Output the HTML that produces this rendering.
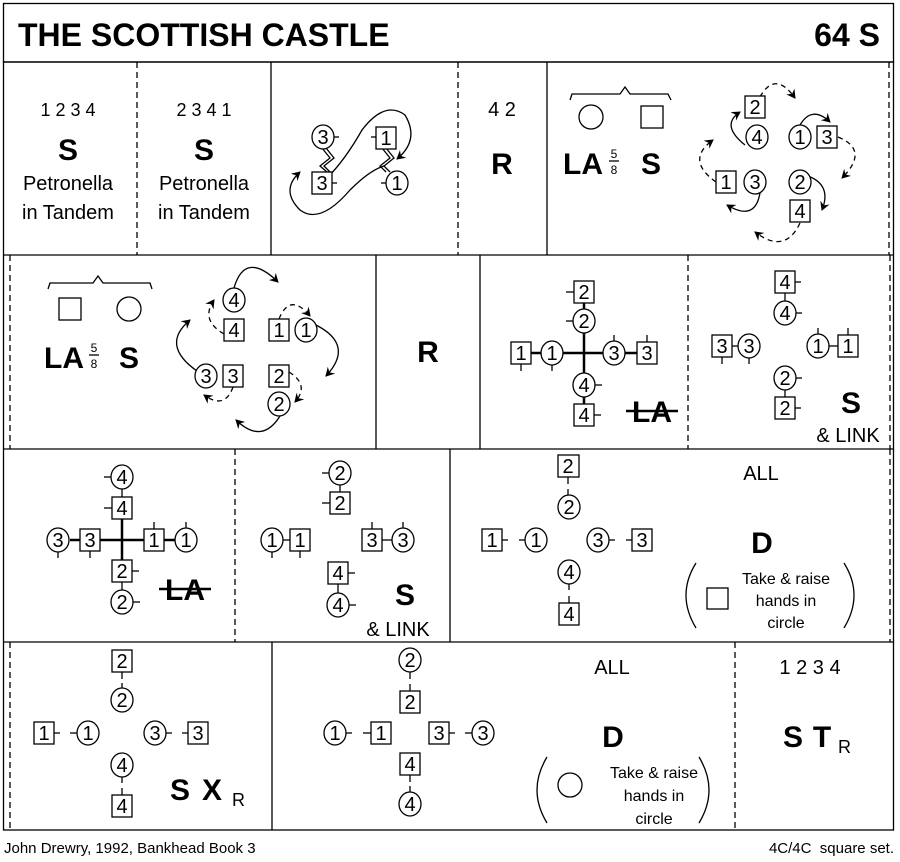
<!DOCTYPE html>
<html><head><meta charset="utf-8"><style>
html,body{margin:0;padding:0;background:#fff}
svg{display:block}
text{font-family:"Liberation Sans",Arial,sans-serif;fill:#000}
.c{fill:#fff;stroke:#000;stroke-width:1.3}
.n{font-size:20px;text-anchor:middle}
.b{font-weight:bold;text-anchor:middle}
.l{stroke:#000;stroke-width:1.3;fill:none}
.th{stroke:#000;stroke-width:2.5;fill:none}
.d{stroke:#000;stroke-width:1.3;stroke-dasharray:6,4;fill:none}
.a{stroke:#000;stroke-width:1.3;fill:none;marker-end:url(#ar)}
.ad{stroke:#000;stroke-width:1.3;fill:none;stroke-dasharray:5,4;marker-end:url(#ar)}
.t{font-size:18px;text-anchor:middle}
.tl{font-size:20px;text-anchor:middle}
.s{font-size:16px;text-anchor:middle}
</style></head><body>
<svg width="900" height="862" viewBox="0 0 900 862" xmlns="http://www.w3.org/2000/svg">
<defs><marker id="ar" markerWidth="10" markerHeight="10" refX="8" refY="5" orient="auto" markerUnits="userSpaceOnUse"><path d="M0,0 L9,5 L0,10 L3,5 Z" fill="#000"/></marker></defs>
<rect x="3.5" y="3.5" width="890" height="58.5" class="l" stroke-width="1.5"/>
<text x="18" y="46" font-size="32" font-weight="bold">THE SCOTTISH CASTLE</text>
<text x="880" y="46" font-size="32" font-weight="bold" text-anchor="end">64 S</text>
<rect x="3.5" y="62" width="890" height="768" class="l" stroke-width="1.5"/>
<line x1="3" y1="255" x2="894" y2="255" class="l"/>
<line x1="3" y1="449" x2="894" y2="449" class="l"/>
<line x1="3" y1="642" x2="894" y2="642" class="l"/>
<line x1="137" y1="62" x2="137" y2="255" class="d"/>
<line x1="271" y1="62" x2="271" y2="255" class="l"/>
<line x1="458" y1="62" x2="458" y2="255" class="d"/>
<line x1="547" y1="62" x2="547" y2="255" class="l"/>
<line x1="889" y1="62" x2="889" y2="255" class="d"/>
<line x1="10" y1="255" x2="10" y2="449" class="d"/>
<line x1="376" y1="255" x2="376" y2="449" class="l"/>
<line x1="480" y1="255" x2="480" y2="449" class="l"/>
<line x1="688" y1="255" x2="688" y2="449" class="d"/>
<line x1="890" y1="255" x2="890" y2="449" class="d"/>
<line x1="235" y1="449" x2="235" y2="642" class="d"/>
<line x1="450" y1="449" x2="450" y2="642" class="l"/>
<line x1="890" y1="449" x2="890" y2="642" class="d"/>
<line x1="10" y1="642" x2="10" y2="830" class="d"/>
<line x1="272" y1="642" x2="272" y2="830" class="l"/>
<line x1="735" y1="642" x2="735" y2="830" class="d"/>

<text x="68" y="116" class="t">1 2 3 4</text>
<text x="68" y="160" class="b" font-size="30">S</text>
<text x="68" y="190" class="tl">Petronella</text>
<text x="68" y="219" class="tl">in Tandem</text>
<text x="204" y="116" class="t">2 3 4 1</text>
<text x="204" y="160" class="b" font-size="30">S</text>
<text x="204" y="190" class="tl">Petronella</text>
<text x="204" y="219" class="tl">in Tandem</text>

<path d="M327,178 Q345,160 362,130 Q385,100 405,115 Q420,140 397,159" class="a"/>
<path d="M384,166 Q370,170 350,190 Q320,225 300,210 Q280,190 300,172" class="a"/>
<path d="M322,148 L330,158 L320,166 L327,172" class="l"/>
<path d="M326,148 L334,158 L324,166 L330,172" class="l"/>
<path d="M382,148 L390,158 L380,166 L386,172" class="l"/>
<path d="M386,148 L394,158 L384,166 L390,172" class="l"/>
<ellipse cx="323" cy="137" rx="11" ry="12" class="c"/><text x="323" y="144" class="n">3</text>
<line x1="334" y1="137" x2="339" y2="137" class="l"/>
<rect x="312" y="172" width="20" height="22" class="c"/><text x="322" y="190" class="n">3</text>
<line x1="332" y1="183" x2="337" y2="183" class="l"/>
<rect x="376" y="127" width="20" height="22" class="c"/><text x="386" y="145" class="n">1</text>
<line x1="371" y1="137" x2="376" y2="137" class="l"/>
<ellipse cx="397" cy="183" rx="11" ry="12" class="c"/><text x="397" y="190" class="n">1</text>
<line x1="381" y1="183" x2="386" y2="183" class="l"/>

<text x="502" y="116" class="tl">4 2</text>
<text x="502" y="174" class="b" font-size="30">R</text>

<path d="M570,100 L572,94 L620,94 L625,87 L630,94 L668,94 L671,100" class="l"/>
<ellipse cx="591" cy="117" rx="12" ry="12" class="c"/>
<rect x="641" y="106" width="22" height="22" class="c"/>
<text x="583" y="174" class="b" font-size="30">LA</text>
<text x="614" y="158" font-size="12" text-anchor="middle">5</text>
<line x1="609" y1="161" x2="619" y2="161" class="l" stroke-width="1"/>
<text x="614" y="174" font-size="12" text-anchor="middle">8</text>
<text x="651" y="174" class="b" font-size="30">S</text>
<path d="M745,145 Q720,125 740,112" class="a"/>
<path d="M760,97 Q775,70 795,98" class="ad"/>
<path d="M800,125 Q812,105 830,122" class="a"/>
<path d="M838,137 Q870,150 842,178" class="ad"/>
<path d="M808,176 Q832,185 822,210" class="a"/>
<path d="M800,223 Q785,255 755,232" class="ad"/>
<path d="M760,193 Q755,222 727,205" class="a"/>
<path d="M716,182 Q685,160 713,140" class="ad"/>
<rect x="745" y="96" width="20" height="22" class="c"/><text x="755" y="114" class="n">2</text>
<ellipse cx="757" cy="137" rx="11" ry="12" class="c"/><text x="757" y="144" class="n">4</text>
<ellipse cx="800" cy="137" rx="11" ry="12" class="c"/><text x="800" y="144" class="n">1</text>
<rect x="817" y="126" width="20" height="22" class="c"/><text x="827" y="144" class="n">3</text>
<rect x="716" y="171" width="20" height="22" class="c"/><text x="726" y="189" class="n">1</text>
<ellipse cx="755" cy="182" rx="11" ry="12" class="c"/><text x="755" y="189" class="n">3</text>
<ellipse cx="800" cy="182" rx="11" ry="12" class="c"/><text x="800" y="189" class="n">2</text>
<rect x="790" y="200" width="20" height="22" class="c"/><text x="800" y="218" class="n">4</text>

<path d="M48,289 L50,283 L93,283 L98,276 L103,283 L150,283 L152,289" class="l"/>
<rect x="59" y="298" width="22" height="22" class="c"/>
<ellipse cx="129" cy="309" rx="12" ry="12" class="c"/>
<text x="64" y="368" class="b" font-size="30">LA</text>
<text x="94" y="352" font-size="12" text-anchor="middle">5</text>
<line x1="89" y1="355" x2="99" y2="355" class="l" stroke-width="1"/>
<text x="94" y="368" font-size="12" text-anchor="middle">8</text>
<text x="129" y="368" class="b" font-size="30">S</text>
<path d="M234,288 Q245,250 278,282" class="a"/>
<path d="M279,319 Q290,292 310,316" class="ad"/>
<path d="M316,325 Q355,345 326,376" class="a"/>
<path d="M289,372 Q310,385 295,402" class="ad"/>
<path d="M280,416 Q262,445 236,420" class="a"/>
<path d="M233,387 Q225,410 204,395" class="ad"/>
<path d="M197,371 Q160,345 190,320" class="a"/>
<path d="M224,334 Q200,320 214,300" class="ad"/>
<ellipse cx="234" cy="300" rx="11" ry="12" class="c"/><text x="234" y="307" class="n">4</text>
<rect x="224" y="319" width="20" height="22" class="c"/><text x="234" y="337" class="n">4</text>
<rect x="269" y="319" width="20" height="22" class="c"/><text x="279" y="337" class="n">1</text>
<ellipse cx="306" cy="330" rx="11" ry="12" class="c"/><text x="306" y="337" class="n">1</text>
<ellipse cx="206" cy="376" rx="11" ry="12" class="c"/><text x="206" y="383" class="n">3</text>
<rect x="223" y="365" width="20" height="22" class="c"/><text x="233" y="383" class="n">3</text>
<rect x="269" y="365" width="20" height="22" class="c"/><text x="279" y="383" class="n">2</text>
<ellipse cx="279" cy="404" rx="11" ry="12" class="c"/><text x="279" y="411" class="n">2</text>

<text x="428" y="362" class="b" font-size="30">R</text>

<line x1="530" y1="353" x2="637" y2="353" class="th"/>
<line x1="584" y1="303" x2="584" y2="404" class="th"/>
<line x1="584" y1="292" x2="584" y2="321" class="l"/>
<rect x="574" y="281" width="20" height="22" class="c"/><text x="584" y="299" class="n">2</text>
<line x1="566" y1="292" x2="574" y2="292" class="l"/>
<ellipse cx="584" cy="321" rx="11" ry="12" class="c"/><text x="584" y="328" class="n">2</text>
<line x1="566" y1="321" x2="573" y2="321" class="l"/>
<rect x="511" y="342" width="20" height="22" class="c"/><text x="521" y="360" class="n">1</text>
<line x1="521" y1="364" x2="521" y2="371" class="l"/>
<ellipse cx="552" cy="353" rx="11" ry="12" class="c"/><text x="552" y="360" class="n">1</text>
<line x1="552" y1="365" x2="552" y2="371" class="l"/>
<ellipse cx="614" cy="353" rx="11" ry="12" class="c"/><text x="614" y="360" class="n">3</text>
<line x1="614" y1="335" x2="614" y2="341" class="l"/>
<rect x="637" y="342" width="20" height="22" class="c"/><text x="647" y="360" class="n">3</text>
<line x1="647" y1="335" x2="647" y2="342" class="l"/>
<ellipse cx="584" cy="385" rx="11" ry="12" class="c"/><text x="584" y="392" class="n">4</text>
<line x1="595" y1="385" x2="602" y2="385" class="l"/>
<rect x="574" y="404" width="20" height="22" class="c"/><text x="584" y="422" class="n">4</text>
<line x1="594" y1="415" x2="601" y2="415" class="l"/>
<text x="652" y="422" class="b" font-size="30">LA</text>
<line x1="626" y1="411" x2="678" y2="411" class="th"/>

<line x1="785" y1="293" x2="785" y2="313" class="l"/>
<rect x="775" y="271" width="20" height="22" class="c"/><text x="785" y="289" class="n">4</text>
<line x1="795" y1="282" x2="801" y2="282" class="l"/>
<ellipse cx="785" cy="313" rx="11" ry="12" class="c"/><text x="785" y="320" class="n">4</text>
<line x1="796" y1="313" x2="802" y2="313" class="l"/>
<line x1="732" y1="346" x2="738" y2="346" class="l"/>
<rect x="712" y="335" width="20" height="22" class="c"/><text x="722" y="353" class="n">3</text>
<line x1="722" y1="357" x2="722" y2="364" class="l"/>
<ellipse cx="749" cy="346" rx="11" ry="12" class="c"/><text x="749" y="353" class="n">3</text>
<line x1="749" y1="358" x2="749" y2="364" class="l"/>
<line x1="829" y1="346" x2="838" y2="346" class="l"/>
<ellipse cx="818" cy="346" rx="11" ry="12" class="c"/><text x="818" y="353" class="n">1</text>
<line x1="818" y1="328" x2="818" y2="334" class="l"/>
<rect x="838" y="335" width="20" height="22" class="c"/><text x="848" y="353" class="n">1</text>
<line x1="848" y1="328" x2="848" y2="335" class="l"/>
<line x1="785" y1="390" x2="785" y2="397" class="l"/>
<ellipse cx="785" cy="378" rx="11" ry="12" class="c"/><text x="785" y="385" class="n">2</text>
<line x1="796" y1="378" x2="802" y2="378" class="l"/>
<rect x="775" y="397" width="20" height="22" class="c"/><text x="785" y="415" class="n">2</text>
<line x1="795" y1="408" x2="801" y2="408" class="l"/>
<text x="851" y="413" class="b" font-size="30">S</text>
<text x="848" y="442" class="tl">&amp;  LINK</text>

<line x1="70" y1="540" x2="175" y2="540" class="th"/>
<line x1="122" y1="519" x2="122" y2="560" class="th"/>
<line x1="122" y1="489" x2="122" y2="497" class="l"/>
<line x1="122" y1="582" x2="122" y2="590" class="l"/>
<ellipse cx="122" cy="477" rx="11" ry="12" class="c"/><text x="122" y="484" class="n">4</text>
<line x1="104" y1="477" x2="111" y2="477" class="l"/>
<rect x="112" y="497" width="20" height="22" class="c"/><text x="122" y="515" class="n">4</text>
<line x1="104" y1="508" x2="112" y2="508" class="l"/>
<ellipse cx="58" cy="540" rx="11" ry="12" class="c"/><text x="58" y="547" class="n">3</text>
<line x1="58" y1="552" x2="58" y2="558" class="l"/>
<rect x="80" y="529" width="20" height="22" class="c"/><text x="90" y="547" class="n">3</text>
<line x1="90" y1="551" x2="90" y2="558" class="l"/>
<rect x="144" y="529" width="20" height="22" class="c"/><text x="154" y="547" class="n">1</text>
<line x1="154" y1="522" x2="154" y2="529" class="l"/>
<ellipse cx="186" cy="540" rx="11" ry="12" class="c"/><text x="186" y="547" class="n">1</text>
<line x1="186" y1="522" x2="186" y2="528" class="l"/>
<rect x="112" y="560" width="20" height="22" class="c"/><text x="122" y="578" class="n">2</text>
<line x1="132" y1="571" x2="139" y2="571" class="l"/>
<ellipse cx="122" cy="602" rx="11" ry="12" class="c"/><text x="122" y="609" class="n">2</text>
<line x1="133" y1="602" x2="140" y2="602" class="l"/>
<text x="185" y="600" class="b" font-size="30">LA</text>
<line x1="159" y1="589" x2="211" y2="589" class="th"/>

<line x1="340" y1="485" x2="340" y2="492" class="l"/>
<ellipse cx="340" cy="473" rx="11" ry="12" class="c"/><text x="340" y="480" class="n">2</text>
<line x1="322" y1="473" x2="329" y2="473" class="l"/>
<rect x="330" y="492" width="20" height="22" class="c"/><text x="340" y="510" class="n">2</text>
<line x1="322" y1="503" x2="330" y2="503" class="l"/>
<line x1="283" y1="540" x2="290" y2="540" class="l"/>
<ellipse cx="272" cy="540" rx="11" ry="12" class="c"/><text x="272" y="547" class="n">1</text>
<line x1="272" y1="552" x2="272" y2="558" class="l"/>
<rect x="290" y="529" width="20" height="22" class="c"/><text x="300" y="547" class="n">1</text>
<line x1="300" y1="551" x2="300" y2="558" class="l"/>
<line x1="382" y1="540" x2="392" y2="540" class="l"/>
<rect x="362" y="529" width="20" height="22" class="c"/><text x="372" y="547" class="n">3</text>
<line x1="372" y1="522" x2="372" y2="529" class="l"/>
<ellipse cx="403" cy="540" rx="11" ry="12" class="c"/><text x="403" y="547" class="n">3</text>
<line x1="403" y1="522" x2="403" y2="528" class="l"/>
<line x1="338" y1="584" x2="338" y2="593" class="l"/>
<rect x="328" y="562" width="20" height="22" class="c"/><text x="338" y="580" class="n">4</text>
<line x1="348" y1="573" x2="355" y2="573" class="l"/>
<ellipse cx="338" cy="605" rx="11" ry="12" class="c"/><text x="338" y="612" class="n">4</text>
<line x1="349" y1="605" x2="356" y2="605" class="l"/>
<text x="405" y="605" class="b" font-size="30">S</text>
<text x="398" y="636" class="tl">&amp;  LINK</text>

<rect x="558" y="455" width="21" height="22" class="c"/><text x="568" y="473" class="n">2</text>
<line x1="568" y1="477" x2="568" y2="484" class="l"/><line x1="568" y1="489" x2="568" y2="496" class="l"/>
<ellipse cx="569" cy="507" rx="11" ry="12" class="c"/><text x="569" y="514" class="n">2</text>
<rect x="482" y="529" width="20" height="22" class="c"/><text x="492" y="547" class="n">1</text>
<line x1="502" y1="540" x2="508" y2="540" class="l"/><line x1="519" y1="540" x2="525" y2="540" class="l"/>
<ellipse cx="536" cy="540" rx="11" ry="12" class="c"/><text x="536" y="547" class="n">1</text>
<ellipse cx="598" cy="540" rx="11" ry="12" class="c"/><text x="598" y="547" class="n">3</text>
<line x1="609" y1="540" x2="615" y2="540" class="l"/><line x1="626" y1="540" x2="632" y2="540" class="l"/>
<rect x="632" y="529" width="20" height="22" class="c"/><text x="642" y="547" class="n">3</text>
<ellipse cx="569" cy="572" rx="11" ry="12" class="c"/><text x="569" y="579" class="n">4</text>
<line x1="569" y1="584" x2="569" y2="590" class="l"/><line x1="569" y1="596" x2="569" y2="603" class="l"/>
<rect x="559" y="603" width="20" height="22" class="c"/><text x="569" y="621" class="n">4</text>
<text x="761" y="480" class="tl">ALL</text>
<text x="762" y="553" class="b" font-size="30">D</text>
<path d="M696,563 Q676,595 696,628" class="l"/>
<path d="M844,563 Q864,595 844,628" class="l"/>
<rect x="707" y="588" width="21" height="21" class="c"/>
<text x="786" y="584" class="s">Take &amp; raise</text>
<text x="786" y="606" class="s">hands in</text>
<text x="786" y="628" class="s">circle</text>

<rect x="112" y="650" width="20" height="22" class="c"/><text x="122" y="668" class="n">2</text>
<line x1="122" y1="672" x2="122" y2="679" class="l"/><line x1="122" y1="683" x2="122" y2="689" class="l"/>
<ellipse cx="122" cy="700" rx="11" ry="12" class="c"/><text x="122" y="707" class="n">2</text>
<rect x="34" y="722" width="20" height="22" class="c"/><text x="44" y="740" class="n">1</text>
<line x1="54" y1="733" x2="60" y2="733" class="l"/><line x1="70" y1="733" x2="77" y2="733" class="l"/>
<ellipse cx="88" cy="733" rx="11" ry="12" class="c"/><text x="88" y="740" class="n">1</text>
<ellipse cx="155" cy="733" rx="11" ry="12" class="c"/><text x="155" y="740" class="n">3</text>
<line x1="166" y1="733" x2="172" y2="733" class="l"/><line x1="182" y1="733" x2="188" y2="733" class="l"/>
<rect x="188" y="722" width="20" height="22" class="c"/><text x="198" y="740" class="n">3</text>
<ellipse cx="122" cy="765" rx="11" ry="12" class="c"/><text x="122" y="772" class="n">4</text>
<line x1="122" y1="777" x2="122" y2="783" class="l"/><line x1="122" y1="788" x2="122" y2="795" class="l"/>
<rect x="112" y="795" width="20" height="22" class="c"/><text x="122" y="813" class="n">4</text>
<text x="180" y="800" class="b" font-size="30">S</text>
<text x="212" y="800" class="b" font-size="30">X</text>
<text x="232" y="806" font-size="18">R</text>

<ellipse cx="410" cy="660" rx="11" ry="12" class="c"/><text x="410" y="667" class="n">2</text>
<line x1="410" y1="672" x2="410" y2="679" class="l"/><line x1="410" y1="684" x2="410" y2="691" class="l"/>
<rect x="400" y="691" width="20" height="22" class="c"/><text x="410" y="709" class="n">2</text>
<ellipse cx="335" cy="733" rx="11" ry="12" class="c"/><text x="335" y="740" class="n">1</text>
<line x1="346" y1="733" x2="352" y2="733" class="l"/><line x1="363" y1="733" x2="371" y2="733" class="l"/>
<rect x="371" y="722" width="20" height="22" class="c"/><text x="381" y="740" class="n">1</text>
<rect x="429" y="722" width="20" height="22" class="c"/><text x="439" y="740" class="n">3</text>
<line x1="449" y1="733" x2="455" y2="733" class="l"/><line x1="465" y1="733" x2="472" y2="733" class="l"/>
<ellipse cx="483" cy="733" rx="11" ry="12" class="c"/><text x="483" y="740" class="n">3</text>
<rect x="400" y="753" width="20" height="22" class="c"/><text x="410" y="771" class="n">4</text>
<line x1="410" y1="775" x2="410" y2="782" class="l"/><line x1="410" y1="786" x2="410" y2="792" class="l"/>
<ellipse cx="410" cy="804" rx="11" ry="12" class="c"/><text x="410" y="811" class="n">4</text>
<text x="612" y="674" class="tl">ALL</text>
<text x="613" y="747" class="b" font-size="30">D</text>
<path d="M547,757 Q527,790 547,823" class="l"/>
<path d="M699,757 Q719,790 699,823" class="l"/>
<ellipse cx="570" cy="785" rx="12" ry="12" class="c"/>
<text x="654" y="778" class="s">Take &amp; raise</text>
<text x="654" y="801" class="s">hands in</text>
<text x="654" y="824" class="s">circle</text>

<text x="810" y="674" class="tl">1 2 3 4</text>
<text x="793" y="747" class="b" font-size="30">S</text>
<text x="822" y="747" class="b" font-size="30">T</text>
<text x="838" y="753" font-size="18">R</text>

<text x="4" y="853" font-size="15">John Drewry, 1992, Bankhead Book 3</text>
<text x="894" y="853" font-size="15" text-anchor="end" xml:space="preserve">4C/4C  square set.</text>
</svg>
</body></html>
